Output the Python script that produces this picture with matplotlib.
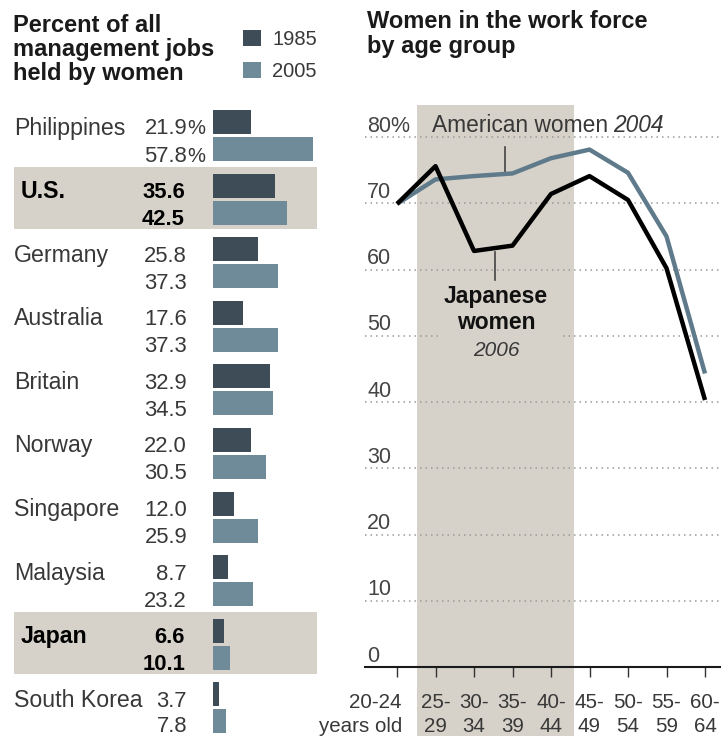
import numpy as np
import matplotlib
matplotlib.use("Agg")
import matplotlib.pyplot as plt
from matplotlib.patches import Rectangle
from matplotlib import transforms

# ── Data ───────────────────────────────────────────────
countries = ["Philippines", "U.S.", "Germany", "Australia", "Britain",
             "Norway", "Singapore", "Malaysia", "Japan", "South Korea"]
share_1985 = [21.9, 35.6, 25.8, 17.6, 32.9, 22.0, 12.0, 8.7, 6.6, 3.7]
share_2005 = [57.8, 42.5, 37.3, 37.3, 34.5, 30.5, 25.9, 23.2, 10.1, 7.8]
highlight = ["U.S.", "Japan"]

age_groups = ["20-24", "25-29", "30-34", "35-39", "40-44",
              "45-49", "50-54", "55-59", "60-64"]
japanese_2006 = [69.9, 75.6, 62.8, 63.6, 71.4, 74.1, 70.5, 60.2, 40.3]
american_2004 = [69.9, 73.6, 74.1, 74.5, 76.8, 78.1, 74.6, 65.0, 44.3]
y_ticks = [0, 10, 20, 30, 40, 50, 60, 70, 80]

# ── Style ──────────────────────────────────────────────
DARK = "#3d4c56"
LIGHT = "#6f8a99"
SLATE = "#5f7b8b"
SHADE = "#d6d2c9"
TXT = "#383838"

plt.rcParams["font.family"] = ["Liberation Sans", "DejaVu Sans"]

W, H = 721, 736
fig = plt.figure(figsize=(W / 100, H / 100), dpi=100)


def fx(px):
    return px / W


def fy(py):
    return 1 - py / H


# ── Left: management jobs bars ─────────────────────────
PITCH = 63.6          # px per country row
ROW0 = 135.5          # px centre of first row
ZERO_X = 213          # px where bars start
PX_PER_PCT = 1.73

axl = fig.add_axes([0, 0, fx(330), (736 - 95) / H])
axl.set_xlim(-ZERO_X / PX_PER_PCT, (330 - ZERO_X) / PX_PER_PCT)
axl.set_ylim((736 - ROW0) / PITCH, (95 - ROW0) / PITCH)
axl.axis("off")


def xd(px):
    return (px - ZERO_X) / PX_PER_PCT


rows = np.arange(len(countries))
axl.barh(rows - 13.5 / PITCH, share_1985, height=24 / PITCH, color=DARK, zorder=2)
axl.barh(rows + 13.5 / PITCH, share_2005, height=24 / PITCH, color=LIGHT, zorder=2)

blend = transforms.blended_transform_factory(fig.transFigure, axl.transData)
for i, name in enumerate(countries):
    bold = name in highlight
    kw = dict(va="baseline", transform=blend,
              color="black" if bold else TXT,
              fontweight="bold" if bold else "normal")
    if bold:
        axl.add_patch(Rectangle((xd(14), i - 32 / PITCH), xd(317) - xd(14),
                                62 / PITCH, facecolor=SHADE, edgecolor="none",
                                zorder=0))
    name_x = 21 if bold else 14
    num_x = 185 if bold else 187
    # last row sits right on the bottom edge
    lower = 24.5 if i == len(countries) - 1 else 26
    axl.text(fx(name_x), i - 1 / PITCH, name, ha="left", fontsize=16.7, **kw)
    axl.text(fx(num_x), i - 1 / PITCH, f"{share_1985[i]:.1f}", ha="right",
             fontsize=15.8, **kw)
    axl.text(fx(num_x), i + lower / PITCH, f"{share_2005[i]:.1f}", ha="right",
             fontsize=15.8, **kw)
    if i == 0:
        axl.text(fx(num_x), i - 1 / PITCH, "%", ha="left", fontsize=14.5, **kw)
        axl.text(fx(num_x), i + lower / PITCH, "%", ha="left", fontsize=14.5, **kw)

# title and legend
for k, line in enumerate(["Percent of all", "management jobs", "held by women"]):
    fig.text(fx(13), fy(32 + 24 * k), line, fontsize=17, fontweight="bold",
             va="baseline", ha="left", color="#1a1a1a")
for k, (label, col) in enumerate([("1985", DARK), ("2005", LIGHT)]):
    top = 30 + 32 * k
    fig.add_artist(Rectangle((fx(243), fy(top + 16)), 18 / W, 16 / H,
                             transform=fig.transFigure, facecolor=col,
                             edgecolor="none"))
    fig.text(fx(272), fy(top + 15), label, fontsize=14.5, color=TXT,
             va="baseline", ha="left")

# ── Right: work force participation lines ──────────────
X0, DX = 397, 38.5      # px of first age group, px per group
Y0, DY = 667, 6.625     # px of zero line, px per percentage point

axr = fig.add_axes([fx(365), fy(667), (721 - 365) / W, (667 - 100) / H])
axr.set_xlim((365 - X0) / DX, (721 - X0) / DX)
axr.set_ylim(0, (Y0 - 100) / DY)
for s in ["top", "left", "right"]:
    axr.spines[s].set_visible(False)
axr.spines["bottom"].set_linewidth(1.5)
axr.spines["bottom"].set_color("#1a1a1a")
axr.set_yticks([])
x = np.arange(len(age_groups))
axr.set_xticks(x)
axr.set_xticklabels([])
axr.tick_params(axis="x", direction="out", length=7.5, width=1.0, color="#333333")


def ryd(py):
    return (Y0 - py) / DY


# shaded 25-44 band, runs down past the axis behind the labels
axr.add_patch(Rectangle((0.53, ryd(737)), 4.61 - 0.53, ryd(105) - ryd(737),
                        facecolor=SHADE, edgecolor="none", clip_on=False,
                        zorder=0))

for v in y_ticks[1:]:
    axr.axhline(v, color="#9a9a9a", lw=1.1, ls=(0, (1, 2.6)), zorder=1)
for v in y_ticks:
    axr.text((367 - X0) / DX, v + 0.8, "80%" if v == 80 else str(v),
             ha="left", va="baseline", fontsize=15.5, color="#444444")

axr.plot(x, american_2004, color=SLATE, lw=3.2, zorder=3,
         solid_capstyle="butt")
axr.plot(x, japanese_2006, color="black", lw=3.2, zorder=4,
         solid_capstyle="butt")

# age labels under the axis
for i, age in enumerate(age_groups):
    if i == 0:
        lines, xpos, ha = [age, "years old"], i + 5 / DX, "right"
    else:
        a, b = age.split("-")
        lines, xpos, ha = [a + "-", b], i, "center"
    for k, line in enumerate(lines):
        axr.text(xpos, ryd(708 + 23.5 * k), line, ha=ha, va="baseline",
                 fontsize=14.8, color=TXT)

# series labels with leader lines
xa = 2.8
axr.plot([xa, xa], [np.interp(xa, x, american_2004), ryd(147)],
         color="#444444", lw=1.2, zorder=2)
t1 = axr.text((432 - X0) / DX, ryd(132), "American women", ha="left",
              va="baseline", fontsize=16.4, color=TXT, zorder=5)
axr.annotate("2004", xy=(1, 0), xycoords=t1, xytext=(5, 0),
             textcoords="offset pixels", ha="left", va="bottom",
             fontsize=16.4, style="italic", color=TXT)

xj = 2.55
axr.plot([xj, xj], [np.interp(xj, x, japanese_2006) - 0.6, ryd(280)],
         color="#444444", lw=1.2, zorder=2)
xc = (496 - X0) / DX
axr.add_patch(Rectangle(((440 - X0) / DX, ryd(345)), (562 - 440) / DX,
                        ryd(305) - ryd(345), facecolor=SHADE,
                        edgecolor="none", zorder=2))
axr.text(xc, ryd(303), "Japanese", ha="center", va="baseline", fontsize=16.5,
         fontweight="bold", color="#111111", zorder=5)
axr.text(xc, ryd(329), "women", ha="center", va="baseline", fontsize=16.5,
         fontweight="bold", color="#111111", zorder=5)
axr.text(xc, ryd(356), "2006", ha="center", va="baseline", fontsize=15,
         style="italic", color=TXT, zorder=5)

for k, line in enumerate(["Women in the work force", "by age group"]):
    fig.text(fx(367), fy(28 + 25 * k), line, fontsize=17, fontweight="bold",
             va="baseline", ha="left", color="#1a1a1a")

fig.savefig("out.png", dpi=100)
plt.close(fig)
